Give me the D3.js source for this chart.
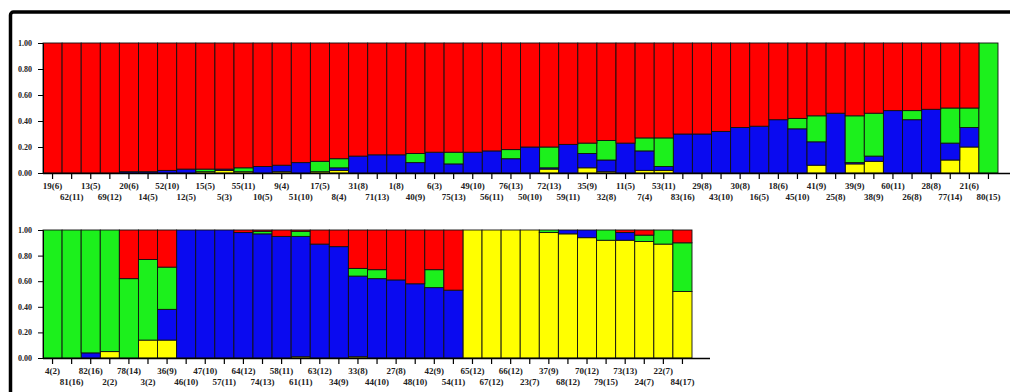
<!DOCTYPE html>
<html>
<head>
<meta charset="utf-8">
<script src="https://cdn.jsdelivr.net/npm/d3@7"></script>
<style>
  html, body { margin: 0; padding: 0; background: #fff; }
  svg { display: block; }
  .tick text { font-family: "Liberation Serif", "Times New Roman", serif; }
</style>
</head>
<body>
<svg id="chart" width="1010" height="392"></svg>
<script>
// Population labels, "id(n)", in plotted order
const topLabels = ["19(6)","62(11)","13(5)","69(12)","20(6)","14(5)","52(10)","12(5)","15(5)","5(3)",
  "55(11)","10(5)","9(4)","51(10)","17(5)","8(4)","31(8)","71(13)","1(8)","40(9)",
  "6(3)","75(13)","49(10)","56(11)","76(13)","50(10)","72(13)","59(11)","35(9)","32(8)",
  "11(5)","7(4)","53(11)","83(16)","29(8)","43(10)","30(8)","16(5)","18(6)","45(10)",
  "41(9)","25(8)","39(9)","38(9)","60(11)","26(8)","28(8)","77(14)","21(6)","80(15)"];

// Membership proportions for each cluster (stacked bottom to top: yellow, blue, green, red)
const topYellow = [0,0,0,0,0,0,0,0,.01,.02, .01,0,.01,0,.01,.02,0,0,0,0,
  0,0,0,0,0,0,.03,0,.04,.01, 0,.02,.02,0,0,0,0,0,0,0, .06,0,.07,.09,0,0,0,.10,.20,0];
const topBlue = [0,0,0,0,.01,.01,.02,.03,0,.01, 0,.05,.05,.08,0,.02,.13,.14,.14,.08,
  .16,.07,.16,.17,.11,.20,.01,.22,.11,.09, .23,.15,.03,.30,.30,.32,.35,.36,.41,.34,
  .18,.46,.01,.04,.48,.41,.49,.13,.15,0];
const topGreen = [0,0,0,0,0,0,0,0,.02,0, .03,0,0,0,.08,.07,0,0,0,.07,
  0,.09,0,0,.07,0,.16,0,.08,.15, 0,.10,.22,0,0,0,0,0,0,.08,
  .20,0,.36,.33,0,.07,0,.27,.15,1];
const topRed = [1,1,1,1,.99,.99,.98,.97,.97,.97, .96,.95,.94,.92,.91,.89,.87,.86,.86,.85,
  .84,.84,.84,.83,.82,.80,.80,.78,.77,.75, .77,.73,.73,.70,.70,.68,.65,.64,.59,.58,
  .56,.54,.56,.54,.52,.52,.51,.50,.50,0];

const bottomLabels = ["4(2)","81(16)","82(16)","2(2)","78(14)","3(2)","36(9)","46(10)","47(10)","57(11)",
  "64(12)","74(13)","58(11)","61(11)","63(12)","34(9)","33(8)","44(10)","27(8)","48(10)",
  "42(9)","54(11)","65(12)","67(12)","66(12)","23(7)","37(9)","68(12)","70(12)","79(15)",
  "73(13)","24(7)","22(7)","84(17)"];
const bottomYellow = [0,0,0,.05,0,.14,.14,0,0,0, 0,0,0,.01,0,0,.01,0,0,0,
  0,0,1,1,1,1,.98,.97,.94,.92, .92,.91,.89,.52];
const bottomBlue = [0,0,.04,0,0,0,.24,1,1,1, .98,.97,.95,.94,.89,.87,.63,.62,.61,.58,
  .55,.53,0,0,0,0,0,.03,.06,0, .06,0,0,0];
const bottomGreen = [1,1,.96,.95,.62,.63,.33,0,0,0, 0,.02,0,.04,0,0,.06,.07,0,0,
  .14,0,0,0,0,0,.02,0,0,.08, 0,.05,.11,.38];
const bottomRed = [0,0,0,0,.38,.23,.29,0,0,0, .02,.01,.05,.01,.11,.13,.30,.31,.39,.42,
  .31,.47,0,0,0,0,0,0,0,0, .02,.04,0,.10];

const yTicks = [0, 0.2, 0.4, 0.6, 0.8, 1.0];

const clusterKeys = ["yellow", "blue", "green", "red"];
const clusterColor = d3.scaleOrdinal()
  .domain(clusterKeys)
  .range(["#ffff00", "#0a0af0", "#1cf01c", "#ff0000"]);

const svg = d3.select("#chart");

// Outer frame
svg.append("rect")
  .attr("x", 10.5).attr("y", 12).attr("width", 1020).attr("height", 400)
  .attr("rx", 3)
  .attr("fill", "none").attr("stroke", "#000").attr("stroke-width", 3.5);

function drawPanel(cfg) {
  const rows = cfg.labels.map((lab, i) => ({
    label: lab,
    yellow: cfg.yellow[i], blue: cfg.blue[i], green: cfg.green[i], red: cfg.red[i]
  }));
  const x = d3.scaleBand()
    .domain(cfg.labels)
    .range([cfg.x0, cfg.x1])
    .padding(0);
  const y = d3.scaleLinear().domain([0, 1]).range([cfg.yBottom, cfg.yTop]);
  const series = d3.stack().keys(clusterKeys)(rows);

  const g = svg.append("g");

  g.selectAll("g.layer")
    .data(series)
    .join("g")
    .attr("class", "layer")
    .attr("fill", d => clusterColor(d.key))
    .selectAll("rect")
    .data(d => d.filter(s => s[1] - s[0] > 0))
    .join("rect")
    .attr("x", s => x(s.data.label))
    .attr("width", x.bandwidth())
    .attr("y", s => y(Math.min(1, s[1])))
    .attr("height", s => Math.max(0, y(s[0]) - y(Math.min(1, s[1]))))
    .attr("stroke", "#111")
    .attr("stroke-width", 0.9);

  // Y axis
  const yAxis = d3.axisLeft(y)
    .tickValues(yTicks)
    .tickFormat(d3.format(".2f"))
    .tickSize(5)
    .tickPadding(6);
  const ya = g.append("g")
    .attr("transform", `translate(${cfg.x0},0)`)
    .call(yAxis);
  ya.select(".domain").attr("stroke", "#000");
  ya.selectAll(".tick text")
    .attr("font-size", 8)
    .attr("font-weight", "bold")
    .attr("fill", "#222");

  // X axis line and ticks
  const xa = g.append("g")
    .attr("transform", `translate(0,${cfg.yBottom})`)
    .call(d3.axisBottom(x).tickSize(6).tickFormat(""));
  xa.select(".domain").remove();
  xa.selectAll(".tick line").attr("stroke", "#000").attr("stroke-width", 1.2);
  g.append("line")
    .attr("x1", cfg.x0).attr("x2", cfg.axisEnd)
    .attr("y1", cfg.yBottom + 0.5).attr("y2", cfg.yBottom + 0.5)
    .attr("stroke", "#000").attr("stroke-width", 1.5);

  // Category labels, alternating between two rows
  g.selectAll("text.cat")
    .data(cfg.labels)
    .join("text")
    .attr("class", "cat")
    .attr("x", d => x(d) + x.bandwidth() / 2)
    .attr("y", (d, i) => cfg.yBottom + (i % 2 === 0 ? 16 : 27))
    .attr("text-anchor", "middle")
    .attr("font-family", "'Liberation Serif', 'Times New Roman', serif")
    .attr("font-size", 9)
    .attr("font-weight", "bold")
    .attr("fill", "#222")
    .text(d => d);
}

drawPanel({
  labels: topLabels, yellow: topYellow, blue: topBlue, green: topGreen, red: topRed,
  x0: 43, x1: 998, yTop: 43, yBottom: 173, axisEnd: 1010
});

drawPanel({
  labels: bottomLabels, yellow: bottomYellow, blue: bottomBlue, green: bottomGreen, red: bottomRed,
  x0: 43, x1: 692, yTop: 230, yBottom: 358, axisEnd: 710
});
</script>
</body>
</html>
